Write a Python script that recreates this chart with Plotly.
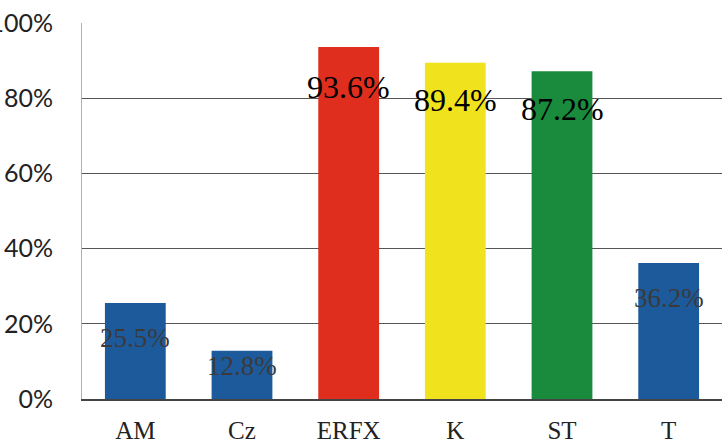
import plotly.graph_objects as go

categories = ["AM", "Cz", "ERFX", "K", "ST", "T"]
values = [25.5, 12.8, 93.6, 89.4, 87.2, 36.2]
bar_colors = ["#1d5a9c", "#1d5a9c", "#e02e1e", "#f0e31e", "#1a8a3c", "#1d5a9c"]
label_colors = ["#3a3a3a", "#3a3a3a", "#000000", "#000000", "#000000", "#3a3a3a"]
label_sizes = [27, 27, 32, 32, 32, 27]
label_offsets = [35, 15, 40, 37, 38, 35]
tick_vals = [0, 20, 40, 60, 80, 100]
tick_text = ["0%", "20%", "40%", "60%", "80%", "100%"]

fig = go.Figure(go.Bar(
    x=categories, y=values, marker=dict(color=bar_colors, line=dict(width=0)),
    hoverinfo="skip",
))

for c, v, col, sz, off in zip(categories, values, label_colors, label_sizes, label_offsets):
    fig.add_annotation(x=c, y=v, text=f"{v}%", showarrow=False, yshift=-off,
                       yanchor="middle", xanchor="center",
                       font=dict(family="Liberation Serif", size=sz, color=col))

fig.update_layout(
    width=722, height=448,
    margin=dict(l=82, r=0, t=23, b=49),
    paper_bgcolor="white", plot_bgcolor="white",
    bargap=0.43, showlegend=False,
    xaxis=dict(showgrid=False, showline=True, linecolor="#444", linewidth=1.5,
               automargin=False,
               tickfont=dict(family="Liberation Serif", size=25, color="#222"),
               ticks="outside", ticklen=8, tickcolor="rgba(0,0,0,0)"),
    yaxis=dict(range=[0, 100], tickvals=tick_vals, ticktext=tick_text,
               automargin=False,
               showgrid=True, gridcolor="#555", gridwidth=1.3,
               showline=True, linecolor="#b0b0b0", linewidth=1,
               zeroline=False,
               tickfont=dict(family="Lato", size=25, color="#222"),
               ticks="outside", ticklen=23, tickcolor="rgba(0,0,0,0)"),
)

fig.write_html("out.html")
